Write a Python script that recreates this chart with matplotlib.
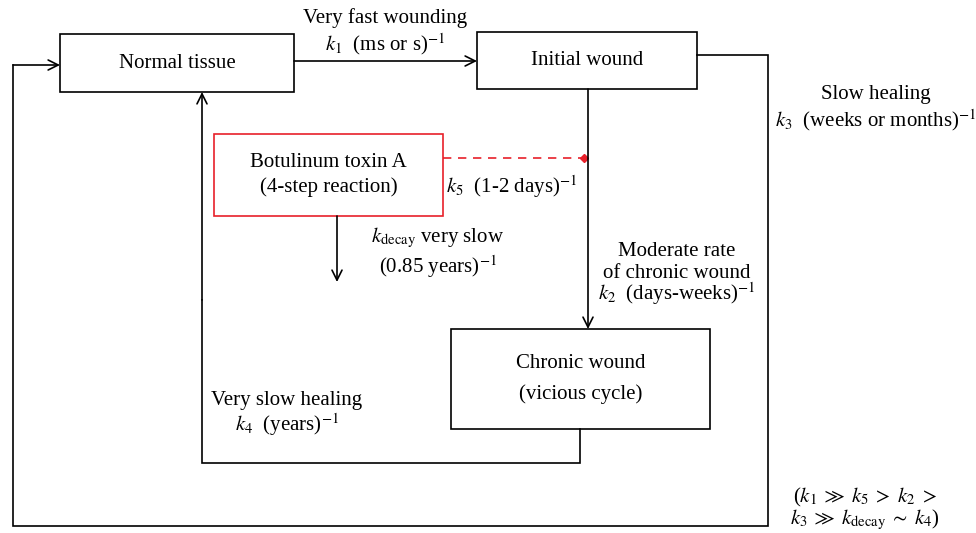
"""Botulinum toxin A wound-healing kinetics scheme."""

import matplotlib.pyplot as plt
from matplotlib.patches import Rectangle

plt.rcParams["font.family"] = ["Liberation Serif", "DejaVu Serif"]
plt.rcParams["mathtext.fontset"] = "stix"

# node labels
normal_label = "Normal tissue"
initial_label = "Initial wound"
toxin_label = "Botulinum toxin A\n(4-step reaction)"
chronic_label = "Chronic wound\n(vicious cycle)"

# rate labels
k1_label = ["Very fast wounding", "$k_1$  (ms or s)$^{-1}$"]
k3_label = ["Slow healing", "$k_3$  (weeks or months)$^{-1}$"]
k5_label = "$k_5$  (1-2 days)$^{-1}$"
kdecay_label = ["$k_{\\mathrm{decay}}$ very slow", "(0.85 years)$^{-1}$"]
k2_label = ["Moderate rate", "of chronic wound", "$k_2$  (days-weeks)$^{-1}$"]
k4_label = ["Very slow healing", "$k_4$  (years)$^{-1}$"]
order_label = ["($k_1 \\;\\gg\\; k_5 \\;>\\; k_2 \\;>$",
               "$k_3 \\;\\gg\\; k_{\\mathrm{decay}} \\;\\sim\\; k_4$)"]

FS = 15
LW = 1.2

fig = plt.figure(figsize=(9.76, 5.33), dpi=100)
ax = fig.add_axes([0, 0, 1, 1])
ax.set_xlim(0, 976)
ax.set_ylim(533, 0)
ax.axis("off")


def box(x0, y0, x1, y1, text, color="black", spacing=1.5):
    ax.add_patch(Rectangle((x0, y0), x1 - x0, y1 - y0, fill=False, ec=color, lw=LW))
    ax.text((x0 + x1) / 2, (y0 + y1) / 2, text, ha="center", va="center",
            fontsize=FS, linespacing=spacing)


def arrow(x0, y0, x1, y1):
    ax.annotate("", xy=(x1, y1), xytext=(x0, y0),
                arrowprops=dict(arrowstyle="->", lw=LW, color="black",
                                shrinkA=0, shrinkB=0, mutation_scale=18))


def path(xs, ys):
    ax.plot(xs, ys, color="black", lw=LW, solid_joinstyle="miter")


def lines(x, y, rows, step=22, ha="center"):
    for i, row in enumerate(rows):
        ax.text(x, y + i * step, row, ha=ha, va="center", fontsize=FS)


box(60, 34, 294, 92, normal_label)
box(477, 32, 697, 89, initial_label)
box(214, 134, 443, 216, toxin_label, color="#e8202a", spacing=1.3)
box(451, 329, 710, 429, chronic_label, spacing=1.75)

# wounding
arrow(294, 61, 477, 61)
lines(385, 18, k1_label, step=26)

# slow healing loop back to normal tissue
path([697, 768, 768, 13, 13], [55, 55, 526, 526, 65])
arrow(13, 65, 60, 65)
lines(876, 95, k3_label, step=25)

# initial -> chronic
arrow(588, 89, 588, 329)
lines(677, 252, k2_label, step=21)

# toxin inhibition
ax.plot([443, 584], [158, 158], ls=(0, (5, 4)), color="#e8202a", lw=LW)
ax.plot([584], [158], marker="D", ms=4, color="#e8202a")
ax.text(446, 187, k5_label, ha="left", va="center", fontsize=FS)

# toxin decay
arrow(337, 216, 337, 282)
lines(438, 238, kdecay_label, step=29)

# chronic -> normal
path([580, 580, 202, 202], [429, 463, 463, 300])
arrow(202, 300, 202, 92)
lines(287, 400, k4_label, step=25)

lines(865, 497, order_label, step=23)

fig.savefig("out.png", dpi=100)
